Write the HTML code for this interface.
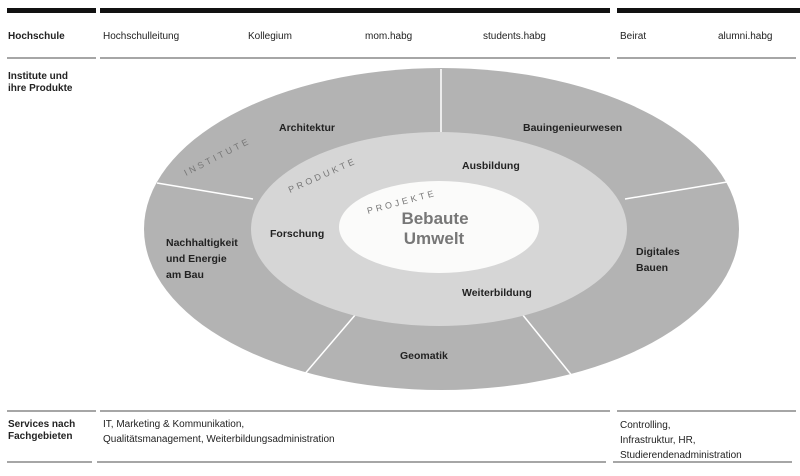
<!DOCTYPE html>
<html><head><meta charset="utf-8"><style>
body{margin:0;width:800px;height:471px;background:#fff;overflow:hidden;font-family:"Liberation Sans",sans-serif}
</style></head><body>
<svg width="800" height="471" viewBox="0 0 800 471" xmlns="http://www.w3.org/2000/svg" font-family="Liberation Sans, sans-serif">
<g fill="#111">
<rect x="7" y="8" width="89" height="5"/><rect x="100" y="8" width="510" height="5"/><rect x="617" y="8" width="183" height="5"/>
</g>
<g stroke="#888" stroke-width="1.5">
<line x1="7" y1="58" x2="96" y2="58"/><line x1="100" y1="58" x2="610" y2="58"/><line x1="617" y1="58" x2="796" y2="58"/>
<line x1="7" y1="411" x2="96" y2="411"/><line x1="100" y1="411" x2="610" y2="411"/><line x1="617" y1="411" x2="796" y2="411"/>
<line x1="7" y1="462" x2="92" y2="462"/><line x1="97" y1="462" x2="606" y2="462"/><line x1="613" y1="462" x2="792" y2="462"/>
</g>
<g font-size="10" fill="#222">
<text x="8" y="39" font-weight="bold">Hochschule</text>
<text x="103" y="39">Hochschulleitung</text>
<text x="248" y="39">Kollegium</text>
<text x="365" y="39">mom.habg</text>
<text x="483" y="39">students.habg</text>
<text x="620" y="39">Beirat</text>
<text x="718" y="39">alumni.habg</text>
<text x="8" y="79" font-weight="bold">Institute und</text>
<text x="8" y="91" font-weight="bold">ihre Produkte</text>
<text x="8" y="427" font-weight="bold">Services nach</text>
<text x="8" y="439" font-weight="bold">Fachgebieten</text>
<text x="103" y="427">IT, Marketing &amp; Kommunikation,</text>
<text x="103" y="442">Qualitätsmanagement, Weiterbildungsadministration</text>
<text x="620" y="428">Controlling,</text>
<text x="620" y="443">Infrastruktur, HR,</text>
<text x="620" y="458">Studierendenadministration</text>
</g>
<ellipse cx="441.5" cy="229" rx="297.5" ry="161" fill="#b3b3b3"/>
<g stroke="#fff" stroke-width="1.5">
<line x1="441" y1="69" x2="441" y2="134"/>
<line x1="157" y1="183" x2="253" y2="199"/>
<line x1="625" y1="199" x2="727" y2="182"/>
<line x1="356" y1="314" x2="303" y2="376"/>
<line x1="522" y1="314" x2="573" y2="377"/>
</g>
<ellipse cx="439" cy="229" rx="188" ry="97" fill="#d6d6d6"/>
<ellipse cx="439" cy="227" rx="100" ry="46" fill="#fbfbfa"/>
<g font-size="10.5" font-weight="bold" fill="#222">
<text x="279" y="131">Architektur</text>
<text x="523" y="131">Bauingenieurwesen</text>
<text x="462" y="169">Ausbildung</text>
<text x="270" y="237">Forschung</text>
<text x="166" y="246">Nachhaltigkeit</text>
<text x="166" y="262">und Energie</text>
<text x="166" y="278">am Bau</text>
<text x="636" y="255">Digitales</text>
<text x="636" y="271">Bauen</text>
<text x="462" y="296">Weiterbildung</text>
<text x="400" y="359">Geomatik</text>
</g>
<g font-size="17" font-weight="bold" fill="#777" text-anchor="middle">
<text x="435" y="224">Bebaute</text>
<text x="434" y="244">Umwelt</text>
</g>
<g font-size="9" fill="#777" letter-spacing="3">
<text transform="translate(186,176) rotate(-27)">INSTITUTE</text>
<text transform="translate(290,193) rotate(-24)">PRODUKTE</text>
<text transform="translate(368,214) rotate(-15)">PROJEKTE</text>
</g>
</svg>
</body></html>
